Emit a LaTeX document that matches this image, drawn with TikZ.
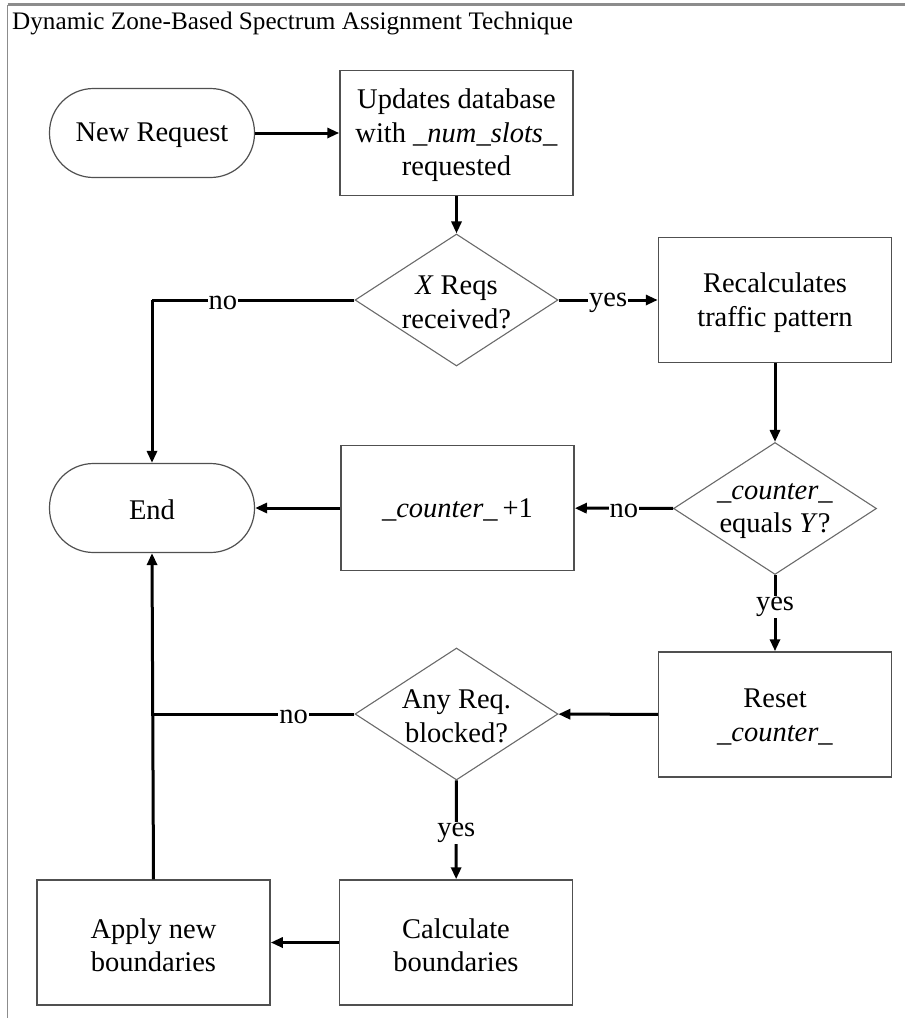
\documentclass[tikz,border=0pt]{standalone}
\usepackage{fontspec}
\setmainfont{Liberation Serif}
\usetikzlibrary{shapes.geometric,arrows.meta}
\definecolor{boxgray}{HTML}{505050}
\definecolor{diagray}{HTML}{6A6A6A}
\definecolor{framegray}{HTML}{8C8C8C}
\begin{document}
\begin{tikzpicture}[x=1pt,y=-1pt,
  every node/.style={font=\fontsize{28.5}{33.5}\selectfont, align=center, inner sep=0pt},
  procbox/.style={rectangle, draw=boxgray, line width=1.5pt, minimum width=233pt, minimum height=125pt},
  terminal/.style={rectangle, draw=boxgray, line width=1.2pt, rounded corners=44pt, minimum width=205pt, minimum height=89pt},
  decision/.style={diamond, draw=diagray, line width=1.1pt, minimum width=203pt, minimum height=132pt},
  flow/.style={line width=3pt, -{Triangle[length=12pt,width=10pt]}},
  plainflow/.style={line width=3pt},
  tag/.style={fill=white, inner sep=1pt, yshift=-3pt}
]
\useasboundingbox (0,0) rectangle (905,1018);

% outer frame and heading
\draw[framegray, line width=3pt] (7.5,4.5) -- (905,4.5);
\draw[framegray, line width=1.5pt] (7.5,4.5) -- (7.5,1018);
\node[anchor=base west, font=\fontsize{25.2}{30}\selectfont] (title) at (12,29)
  {Dynamic Zone-Based Spectrum Assignment Technique};

% process steps (shape first, caption node on top)
\node[terminal] (start) at (152,133) {};
\node (startt) at (152,135) {New Request};
\node[procbox] (update) at (456.5,133) {};
\node (updatet) at (456.5,135.5) {Updates database\\with \textit{\_num\_slots\_}\\requested};
\node[decision] (d1) at (456.5,300) {};
\node (d1t) at (456.5,302.5) {\textit{X} Reqs\\received?};
\node[procbox] (recalc) at (775,300) {};
\node (recalct) at (775,302.5) {Recalculates\\traffic pattern};
\node[terminal] (end) at (152,508) {};
\node (endt) at (152,510) {End};
\node[procbox] (inc) at (457.5,508) {};
\node (inct) at (457.5,510) {\textit{\_counter\_}\,+1};
\node[decision] (d2) at (775,508.5) {};
\node (d2t) at (775,511) {\textit{\_counter\_}\\equals \textit{Y}?};
\node[procbox] (reset) at (775,714.5) {};
\node (resett) at (775,717) {Reset\\\textit{\_counter\_}};
\node[decision] (d3) at (456.5,714) {};
\node (d3t) at (456.5,716.5) {Any Req.\\blocked?};
\node[procbox] (calc) at (456,942.5) {};
\node (calct) at (456,945) {Calculate\\boundaries};
\node[procbox] (apply) at (153.5,942.5) {};
\node (applyt) at (153.5,945) {Apply new\\boundaries};

\coordinate (c1) at (152,300);
\coordinate (c3) at (152,714);

% connectors
\draw[flow] (start) -- (update);
\draw[flow] (update) -- (d1);
\draw[flow] (d1) -- node[tag] {yes} (recalc);
\draw[plainflow] (d1.west) -- node[tag, pos=0.65] {no} (c1);
\draw[flow] (c1) -- (end.north);
\draw[flow] (recalc) -- (d2);
\draw[flow] (d2) -- node[tag] {no} (inc);
\draw[flow] (inc) -- (end);
\draw[flow] (d2) -- node[tag, pos=0.38] {yes} (reset);
\draw[flow] (reset) -- (d3);
\draw[plainflow] (d3.west) -- node[tag, pos=0.3] {no} (c3);
\draw[flow] (d3) -- node[tag] {yes} (calc);
\draw[flow] (calc) -- (apply);
\draw[flow] (apply.north) -- (end.south);
\end{tikzpicture}
\end{document}
